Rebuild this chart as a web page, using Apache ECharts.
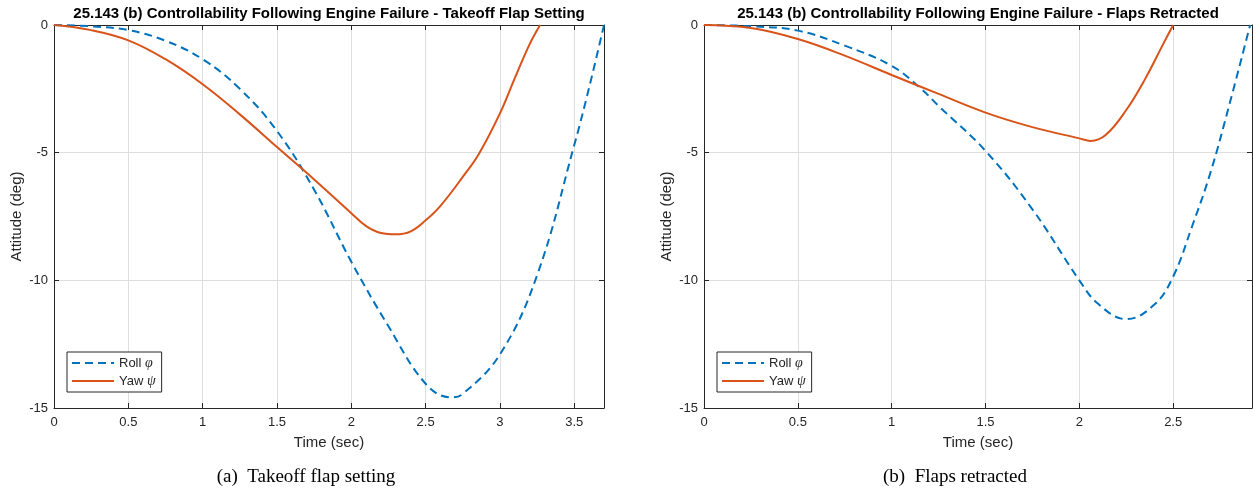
<!DOCTYPE html>
<html>
<head>
<meta charset="utf-8">
<script src="https://cdn.jsdelivr.net/npm/echarts@6/dist/echarts.min.js"></script>
<style>
  html, body { margin: 0; padding: 0; background: #ffffff; }
  #chart { width: 1253px; height: 494px; }
</style>
</head>
<body>
<div id="chart"></div>
<script>
// (a) Takeoff flap setting
const rollTimeA = [0, 0.25, 0.5, 0.75, 1, 1.25, 1.5, 1.75, 2, 2.25, 2.5, 2.67, 2.75, 3, 3.25, 3.5, 3.6, 3.7];
const rollA     = [0, -0.05, -0.2, -0.62, -1.34, -2.5, -4.15, -6.45, -9.27, -11.8, -14.05, -14.58, -14.45, -12.9, -9.8, -4.7, -2.45, 0];
const yawTimeA  = [0, 0.25, 0.5, 0.75, 1, 1.25, 1.5, 1.75, 2, 2.1, 2.2, 2.3, 2.4, 2.5, 2.6, 2.75, 2.86, 3, 3.1, 3.2, 3.27];
const yawA      = [0, -0.2, -0.6, -1.34, -2.32, -3.5, -4.78, -6.05, -7.37, -7.88, -8.15, -8.2, -8.08, -7.65, -7.08, -5.95, -5.03, -3.46, -2.08, -0.75, 0];

// (b) Flaps retracted
const rollTimeB = [0, 0.25, 0.5, 0.75, 1, 1.15, 1.25, 1.5, 1.75, 2, 2.1, 2.25, 2.4, 2.5, 2.6, 2.7, 2.8, 2.91];
const rollB     = [0, -0.05, -0.22, -0.81, -1.6, -2.45, -3.17, -4.93, -7.22, -10.0, -10.92, -11.52, -10.95, -9.85, -7.9, -5.75, -3.1, 0];
const yawTimeB  = [0, 0.25, 0.5, 0.75, 1, 1.25, 1.5, 1.75, 2, 2.06, 2.14, 2.25, 2.35, 2.45, 2.5];
const yawB      = [0, -0.12, -0.55, -1.2, -1.96, -2.7, -3.43, -4.0, -4.44, -4.54, -4.31, -3.33, -2.12, -0.7, 0];

const xMaxA = 3.7;
const xMaxB = 2.92;
const yTicks = [0, -5, -10, -15];

const titles = [
  '25.143 (b) Controllability Following Engine Failure - Takeoff Flap Setting',
  '25.143 (b) Controllability Following Engine Failure - Flaps Retracted'
];
const captions = ['(a)  Takeoff flap setting', '(b)  Flaps retracted'];

const BLUE = '#0072BD';
const ORANGE = '#D95319';
const INK = '#262626';
const SANS = '"Liberation Sans", Arial, Helvetica, sans-serif';
const SERIF = '"Liberation Serif", "Times New Roman", serif';
const CLEAR = 'rgba(0,0,0,0)';

const zip = (xs, ys) => xs.map((x, i) => [x, ys[i]]);

const grids = [
  { left: 54, top: 25, width: 550, height: 383 },
  { left: 704, top: 25, width: 548, height: 383 }
];

function xAxes(gi, max) {
  const base = {
    type: 'value', gridIndex: gi, min: 0, max: max, interval: 0.5,
    axisLine: { show: true, onZero: false, lineStyle: { color: INK, width: 1 } },
    axisTick: { show: true, inside: true, length: 5, lineStyle: { color: INK } }
  };
  return [
    Object.assign({}, base, {
      position: 'bottom',
      name: 'Time (sec)', nameLocation: 'middle', nameGap: 27,
      nameTextStyle: { fontFamily: SANS, fontSize: 15, color: INK },
      axisLabel: { show: true, margin: 8, fontFamily: SANS, fontSize: 13, color: INK, showMaxLabel: false },
      splitLine: { show: true, lineStyle: { color: '#dedede', width: 1 } }
    }),
    Object.assign({}, base, {
      position: 'top',
      axisLabel: { show: false },
      splitLine: { show: false }
    })
  ];
}

function yAxes(gi) {
  const base = {
    type: 'value', gridIndex: gi, min: -15, max: 0, interval: 5,
    axisLine: { show: true, onZero: false, lineStyle: { color: INK, width: 1 } },
    axisTick: { show: true, inside: true, length: 5, lineStyle: { color: INK } }
  };
  return [
    Object.assign({}, base, {
      position: 'left',
      name: 'Attitude (deg)', nameLocation: 'middle', nameGap: 30, nameRotate: 90,
      nameTextStyle: { fontFamily: SANS, fontSize: 15, color: INK },
      axisLabel: { show: true, margin: 6, fontFamily: SANS, fontSize: 13, color: INK,
        formatter: v => (yTicks.indexOf(v) >= 0 ? String(v) : '') },
      splitLine: { show: true, lineStyle: { color: '#dedede', width: 1 } }
    }),
    Object.assign({}, base, {
      position: 'right',
      axisLabel: { show: false },
      splitLine: { show: false }
    })
  ];
}

function lineSeries(name, data, xi, yi, color, dashed) {
  return {
    type: 'line', name: name, xAxisIndex: xi, yAxisIndex: yi,
    data: data, smooth: 0.4, symbol: 'none', showSymbol: false,
    clip: true,
    lineStyle: { color: color, width: 2, type: dashed ? [8, 5] : 'solid' },
    itemStyle: { color: color },
    emphasis: { disabled: true }
  };
}

// Legend entries show the line sample only (symbol made transparent)
function legend(left) {
  return {
    left: left, top: 352, orient: 'vertical',
    padding: [4, 6, 4, 4], itemGap: 4, itemWidth: 42, itemHeight: 14,
    backgroundColor: '#ffffff', borderColor: INK, borderWidth: 1, borderRadius: 0,
    selectedMode: false,
    data: [
      { name: 'Roll', itemStyle: { color: CLEAR, borderColor: CLEAR, borderWidth: 0, opacity: 0 },
        lineStyle: { color: BLUE, width: 2, type: [8, 5] } },
      { name: 'Yaw', itemStyle: { color: CLEAR, borderColor: CLEAR, borderWidth: 0, opacity: 0 },
        lineStyle: { color: ORANGE, width: 2, type: 'solid' } }
    ],
    formatter: n => (n === 'Roll' ? 'Roll {g|φ}' : 'Yaw {g|ψ}'),
    textStyle: {
      fontFamily: SANS, fontSize: 13, color: INK,
      rich: { g: { fontFamily: SERIF, fontStyle: 'italic', fontSize: 14, color: INK } }
    }
  };
}

function label(x, y, text, font, size, weight) {
  return {
    type: 'text', x: x, y: y, silent: true,
    style: { text: text, fontFamily: font, fontSize: size, fontWeight: weight || 'normal',
      fill: '#000000', align: 'center', verticalAlign: 'middle' }
  };
}

const option = {
  animation: false,
  backgroundColor: '#ffffff',
  grid: grids.map(g => Object.assign({ containLabel: false, show: false }, g)),
  xAxis: [].concat(xAxes(0, xMaxA), xAxes(1, xMaxB)),
  yAxis: [].concat(yAxes(0), yAxes(1)),
  legend: [legend(67), legend(717)],
  series: [
    lineSeries('Roll', zip(rollTimeA, rollA), 0, 0, BLUE, true),
    lineSeries('Yaw', zip(yawTimeA, yawA), 0, 0, ORANGE, false),
    lineSeries('Roll', zip(rollTimeB, rollB), 2, 2, BLUE, true),
    lineSeries('Yaw', zip(yawTimeB, yawB), 2, 2, ORANGE, false)
  ],
  graphic: [
    label(329, 14, titles[0], SANS, 15, 'bold'),
    label(978, 14, titles[1], SANS, 15, 'bold'),
    label(306, 477, captions[0], SERIF, 19),
    label(955, 477, captions[1], SERIF, 19)
  ]
};

const chart = echarts.init(document.getElementById('chart'), null, { renderer: 'canvas' });
chart.setOption(option);
</script>
</body>
</html>
